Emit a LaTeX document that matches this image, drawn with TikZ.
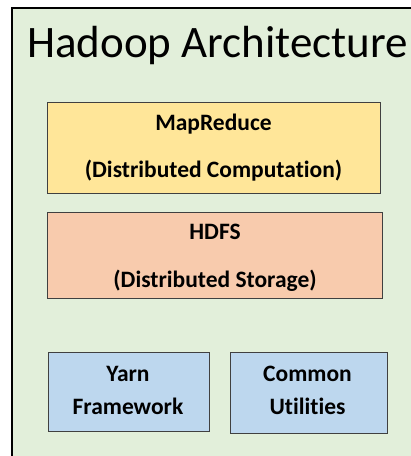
\documentclass[tikz,border=0pt]{standalone}
\usepackage{fontspec}
\setmainfont{Carlito}[Ligatures=NoCommon]
\definecolor{bggreen}{HTML}{E2EFDA}
\definecolor{mryellow}{HTML}{FFE699}
\definecolor{hdfsorange}{HTML}{F8CBAD}
\definecolor{blueb}{HTML}{BDD7EE}
\definecolor{edgegray}{HTML}{404040}
\begin{document}
\begin{tikzpicture}[x=1pt,y=-1pt,
  layer/.style={draw=edgegray,line width=1pt},
  lbl/.style={anchor=base,font=\bfseries\fontsize{23.5}{28}\selectfont,text=black,inner sep=0pt}]
\useasboundingbox (0,0) rectangle (411,456);
\path[fill=white] (0,0) rectangle (411,456);
\path[fill=bggreen,draw=black,line width=1.2pt] (12,8) rectangle (420,470);
\node[anchor=base west,inner sep=0pt,font=\fontsize{45}{52}\selectfont] (title) at (27,57) {Hadoop Architecture};
\path[layer,fill=mryellow] (47,102) rectangle (380,193);
\node[lbl] (mr1) at (213.5,130) {MapReduce};
\node[lbl] (mr2) at (213.5,177) {(Distributed Computation)};
\path[layer,fill=hdfsorange] (47,212) rectangle (382,298);
\node[lbl] (hd1) at (215,239) {HDFS};
\node[lbl] (hd2) at (215,287) {(Distributed Storage)};
\path[layer,fill=blueb] (48,352) rectangle (209,431);
\node[lbl] (y1) at (128,381) {Yarn};
\node[lbl] (y2) at (128,414) {Framework};
\path[layer,fill=blueb] (230,352) rectangle (387,433);
\node[lbl] (c1) at (307.5,381) {Common};
\node[lbl] (c2) at (307.5,414) {Utilities};
\end{tikzpicture}
\end{document}
